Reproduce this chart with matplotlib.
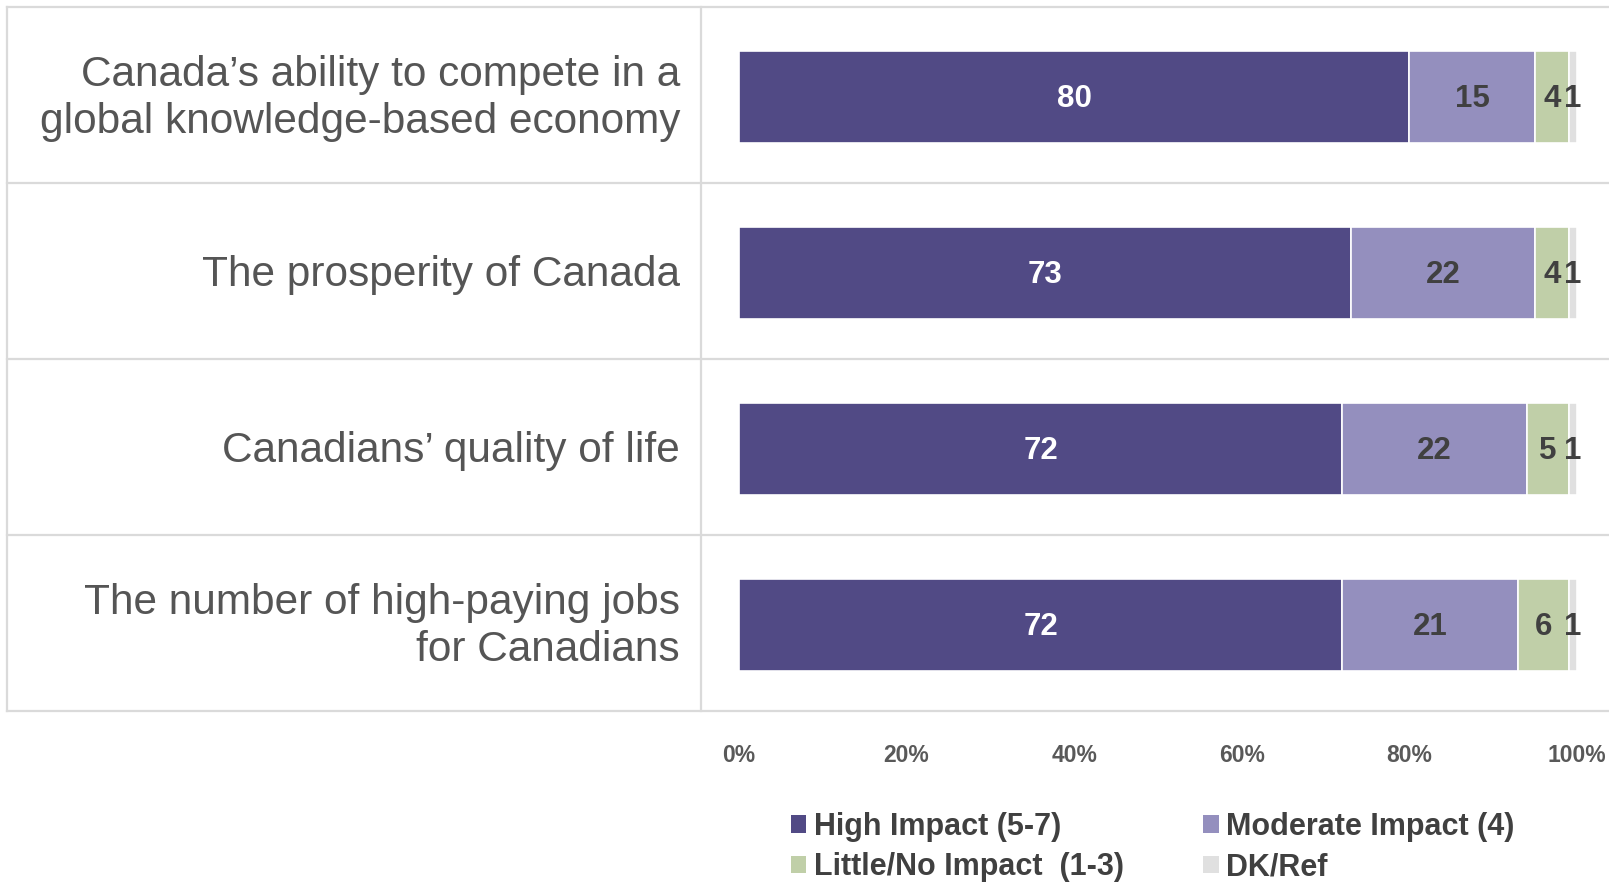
import matplotlib.pyplot as plt
from matplotlib.patches import Patch

categories = [
    "Canada\u2019s ability to compete in a\nglobal knowledge-based economy",
    "The prosperity of Canada",
    "Canadians\u2019 quality of life",
    "The number of high-paying jobs\nfor Canadians",
]
high = [80, 73, 72, 72]
moderate = [15, 22, 22, 21]
little = [4, 4, 5, 6]
dkref = [1, 1, 1, 1]

series_names = ["High Impact (5-7)", "Moderate Impact (4)", "Little/No Impact  (1-3)", "DK/Ref"]
colors = ["#514a85", "#948fbe", "#c0cfa8", "#e0e0e0"]
text_colors = ["white", "#404040", "#404040", "#404040"]
xticks = [0, 20, 40, 60, 80, 100]

W, H = 1609, 883
fig = plt.figure(figsize=(W / 100, H / 100), dpi=100)

# bar area in pixels: x 739..1577, y 7..711 from the top
left, right, top, bottom = 739, 1577, 7, 711
ax = fig.add_axes([left / W, 1 - bottom / H, (right - left) / W, (bottom - top) / H])
ax.set_xlim(0, 100)
ax.set_ylim(len(categories), 0)

rows = [i + 0.51 for i in range(len(categories))]
start = [0] * len(categories)
for vals, col, tcol in zip([high, moderate, little, dkref], colors, text_colors):
    ax.barh(rows, vals, left=start, height=0.52, color=col, edgecolor="white", linewidth=1.2)
    for y, s, v in zip(rows, start, vals):
        ax.text(s + v / 2, y + 0.01, str(v), ha="center", va="center", color=tcol,
                fontsize=22.5, fontweight="bold", family="Liberation Sans")
    start = [s + v for s, v in zip(start, vals)]

# table grid around the labels and bars
frac = lambda px: (px - left) / (right - left)
grid_col = "#dadada"
for i in range(len(categories) + 1):
    ax.axhline(i, xmin=frac(7), xmax=frac(W), color=grid_col, lw=1.6, clip_on=False, zorder=0)
for px in (7, 701):
    ax.plot([frac(px), frac(px)], [0, 1], transform=ax.transAxes, color=grid_col, lw=1.6,
            clip_on=False, zorder=0)

for y, name in zip(rows, categories):
    ax.text(frac(680), y + 0.01, name, transform=ax.get_yaxis_transform(), ha="right", va="center",
            fontsize=30.5, color="#555555", family="Liberation Sans", linespacing=1.24)

ax.set_xticks(xticks)
ax.set_xticklabels([f"{t}%" for t in xticks], fontsize=16.5, fontweight="bold", color="#595959",
                   family="Liberation Sans")
ax.tick_params(axis="x", length=0, pad=24)
ax.set_yticks([])
for s in ax.spines.values():
    s.set_visible(False)

order = [0, 2, 1, 3]
handles = [Patch(facecolor=colors[i], edgecolor="none") for i in order]
labels = [series_names[i] for i in order]
fig.legend(handles, labels, ncol=2, loc="upper left", bbox_to_anchor=(791 / W, 1 - 812 / H),
           frameon=False, prop={"family": "Liberation Sans", "weight": "bold", "size": 22},
           labelcolor="#404040", handlelength=0.5, handleheight=0.5, handletextpad=0.25,
           columnspacing=2.6, labelspacing=0.33, borderaxespad=0, borderpad=0)

fig.savefig("out.png", dpi=100)
